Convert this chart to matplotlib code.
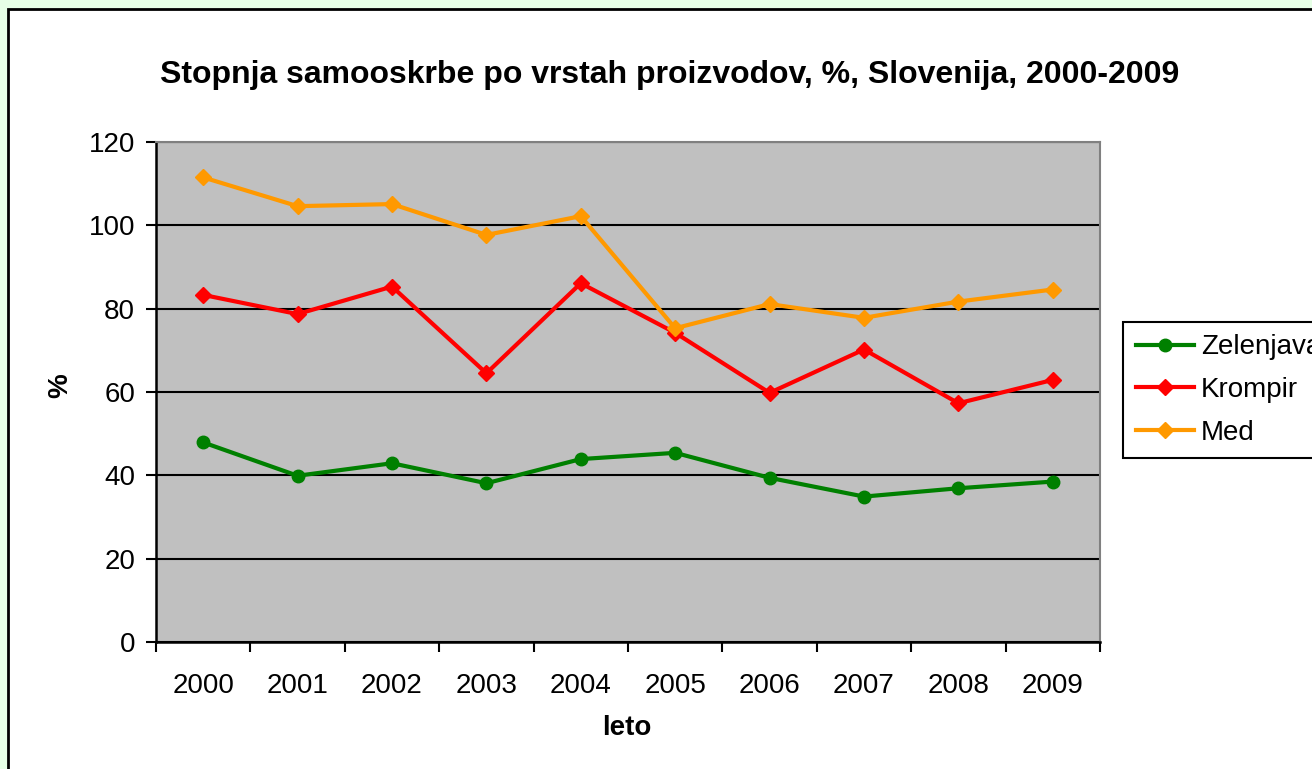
import numpy as np
import matplotlib
matplotlib.use("Agg")
import matplotlib.pyplot as plt
from matplotlib.patches import Rectangle

plt.rcParams["font.family"] = ["Liberation Sans", "DejaVu Sans"]

# podatki
leta = ["2000", "2001", "2002", "2003", "2004", "2005", "2006", "2007", "2008", "2009"]
zelenjava = [47.9, 39.9, 42.9, 38.1, 43.9, 45.4, 39.4, 34.9, 36.9, 38.5]
krompir = [83.3, 78.7, 85.3, 64.5, 86.1, 74.2, 59.8, 70.2, 57.3, 62.9]
med = [111.5, 104.6, 105.1, 97.7, 102.2, 75.3, 81.1, 77.8, 81.7, 84.6]

W, H = 1312, 769
fig = plt.figure(figsize=(W / 100, H / 100), dpi=100)
fig.patch.set_facecolor("#e6ffe6")

# bel okvir grafikona (sega cez desni in spodnji rob)
fig.patches.append(Rectangle((8 / W, -0.05), 1.1, 1 - 9 / H + 0.05, transform=fig.transFigure,
                             facecolor="white", edgecolor="black", linewidth=2, zorder=-5))

ax = fig.add_axes([156 / W, 1 - 642 / H, (1100 - 156) / W, (642 - 142) / H])
ax.set_facecolor("#c0c0c0")

x = np.arange(len(leta))
ax.plot(x, zelenjava, color="#008000", lw=3, marker="o", ms=9, label="Zelenjava", zorder=3, clip_on=False)
ax.plot(x, krompir, color="#ff0000", lw=3, marker="D", ms=8.5, label="Krompir", zorder=3, clip_on=False)
ax.plot(x, med, color="#ff9900", lw=3, marker="D", ms=8.5, label="Med", zorder=3, clip_on=False)

ax.set_xlim(-0.5, len(leta) - 0.5)
ax.set_ylim(0, 120)
ax.set_yticks(range(0, 121, 20))
ax.yaxis.grid(True, color="black", lw=1.5)
ax.set_axisbelow(True)

ax.set_xticks(x)
ax.set_xticklabels(leta)
ax.set_xticks(np.arange(-0.5, len(leta)), minor=True)
ax.tick_params(axis="x", which="major", length=0, pad=22, labelsize=20)
ax.tick_params(axis="x", which="minor", length=7, width=1.5, direction="out")
ax.tick_params(axis="y", length=7, width=1.5, direction="out", labelsize=20, pad=8)

for s in ["left", "bottom"]:
    ax.spines[s].set_color("black")
    ax.spines[s].set_linewidth(1.8)
for s in ["top", "right"]:
    ax.spines[s].set_color("#808080")
    ax.spines[s].set_linewidth(1.5)

fig.text(670 / W, 1 - 75 / H, "Stopnja samooskrbe po vrstah proizvodov, %, Slovenija, 2000-2009",
         ha="center", va="center", fontsize=23, fontweight="bold")
fig.text(60 / W, 1 - 386 / H, "%", ha="center", va="center", rotation=90, fontsize=20, fontweight="bold")
fig.text(627 / W, 1 - 728 / H, "leto", ha="center", va="center", fontsize=20, fontweight="bold")

leg = ax.legend(loc="upper left", bbox_to_anchor=(1123 / W, 1 - 322 / H), bbox_transform=fig.transFigure,
                fontsize=20, frameon=True, fancybox=False, handlelength=2.1, borderpad=0.45,
                labelspacing=0.6, handletextpad=0.25, borderaxespad=0)
leg.get_frame().set_edgecolor("black")
leg.get_frame().set_linewidth(1.5)
leg.get_frame().set_alpha(1)

fig.savefig("out.png", dpi=100, facecolor=fig.get_facecolor())
